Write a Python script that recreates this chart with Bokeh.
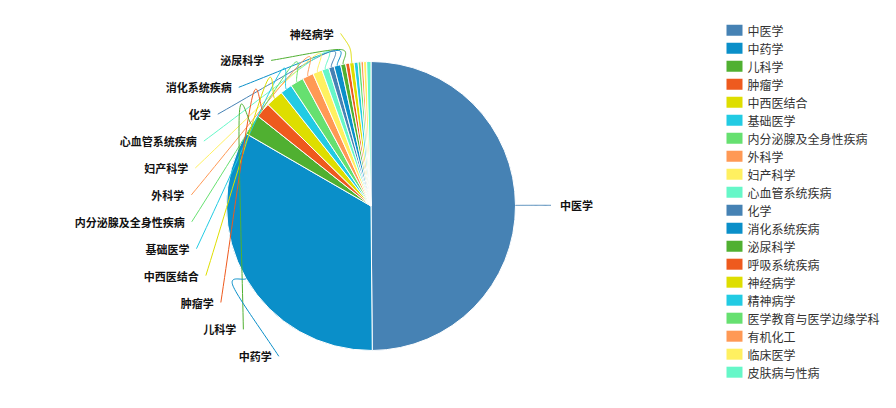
import math

from bokeh.core.properties import value
from bokeh.embed import file_html
from bokeh.models import Range1d
from bokeh.plotting import figure
from bokeh.resources import INLINE

# ---- data -----------------------------------------------------------------
categories = [
    "中医学", "中药学", "儿科学", "肿瘤学", "中西医结合", "基础医学",
    "内分泌腺及全身性疾病", "外科学", "妇产科学", "心血管系统疾病", "化学",
    "消化系统疾病", "泌尿科学", "呼吸系统疾病", "神经病学", "精神病学",
    "医学教育与医学边缘学科", "有机化工", "临床医学", "皮肤病与性病",
]
counts = [4986, 3350, 233, 169, 197, 133, 150, 125, 106, 78, 61,
          75, 56, 44, 50, 44, 32, 28, 35, 48]

palette = ["#4682b4", "#0a8fc9", "#50b031", "#ee5a1e", "#dede00",
           "#22cbe3", "#66e070", "#ff9955", "#fff060", "#66f7c8"]

# slices that carry an outside label (the rest are too thin)
left_labelled = [14, 12, 11, 10, 9, 8, 7, 6, 5, 4, 3, 2, 1]   # top to bottom
right_labelled = [0]

# ---- layout (pixel space, y measured downwards) ---------------------------
W, H = 896, 408
CX, CY, R = 370.5, 205.5, 144.5
LINE1 = 15              # first leg of the label line
LAB_A, LAB_B = 180, 175  # ellipse on which label lines end
LAB_TOP, LAB_STEP = 33, 26.9


def Y(py):
    return H - py


p = figure(width=W, height=H, x_range=Range1d(0, W), y_range=Range1d(0, H),
           x_axis_type=None, y_axis_type=None, min_border=0,
           toolbar_location=None, output_backend="svg")
p.outline_line_color = None
p.background_fill_color = "white"
p.border_fill_color = "white"

colors = [palette[i % len(palette)] for i in range(len(categories))]
total = float(sum(counts))
starts, ends = [], []
acc = 0.0
for c in counts:
    starts.append(acc)
    acc += c / total * 360.0
    ends.append(acc)

# pie, clockwise from 12 o'clock
p.wedge(x=[CX] * len(counts), y=[Y(CY)] * len(counts), radius=R,
        start_angle=[math.pi / 2 - math.radians(s) for s in starts],
        end_angle=[math.pi / 2 - math.radians(e) for e in ends],
        direction="clock", fill_color=colors, line_color="white",
        line_width=1)


def spline(pts, tension=0.45, n=24):
    """Cardinal spline through the given pixel points."""
    tans = []
    for k in range(len(pts)):
        a = pts[max(k - 1, 0)]
        b = pts[min(k + 1, len(pts) - 1)]
        f = tension if 0 < k < len(pts) - 1 else tension * 2
        tans.append(((b[0] - a[0]) * f, (b[1] - a[1]) * f))
    out = []
    for k in range(len(pts) - 1):
        p0, p1 = pts[k], pts[k + 1]
        m0, m1 = tans[k], tans[k + 1]
        for j in range(n + 1):
            t = j / n
            h00 = 2 * t**3 - 3 * t**2 + 1
            h10 = t**3 - 2 * t**2 + t
            h01 = -2 * t**3 + 3 * t**2
            h11 = t**3 - t**2
            out.append((h00 * p0[0] + h10 * m0[0] + h01 * p1[0] + h11 * m1[0],
                        h00 * p0[1] + h10 * m0[1] + h01 * p1[1] + h11 * m1[1]))
    return out


def label_line(i, end):
    mid = math.radians((starts[i] + ends[i]) / 2)
    ux, uy = math.sin(mid), -math.cos(mid)
    edge = (CX + R * ux, CY + R * uy)
    elbow = (CX + (R + LINE1) * ux, CY + (R + LINE1) * uy)
    pts = spline([edge, elbow, end])
    p.line([q[0] for q in pts], [Y(q[1]) for q in pts],
           line_color=colors[i], line_width=1)


def label_x(py, side):
    dy = py - CY
    dx = LAB_A * math.sqrt(max(0.0, 1 - (dy / LAB_B) ** 2))
    return CX + side * dx


lx, ly, lt = [], [], []
for k, i in enumerate(left_labelled):
    py = LAB_TOP + LAB_STEP * k
    ex = label_x(py, -1)
    label_line(i, (ex, py))
    lx.append(ex - 7)
    ly.append(Y(py))
    lt.append(categories[i])

rx, ry, rt = [], [], []
for i in right_labelled:
    mid = math.radians((starts[i] + ends[i]) / 2)
    py = CY - (R + LINE1) * math.cos(mid)
    ex = label_x(py, 1)
    label_line(i, (ex, py))
    rx.append(ex + 9)
    ry.append(Y(py))
    rt.append(categories[i])

label_style = dict(text_font=value("Noto Sans CJK SC"), text_font_size="11px",
                   text_font_style="bold", text_color="#111111",
                   text_baseline="middle")
p.text(x=lx, y=ly, text=lt, text_align="right", **label_style)
p.text(x=rx, y=ry, text=rt, text_align="left", **label_style)

# legend column
LEG_X, LEG_Y0, LEG_STEP = 734, 29.7, 18.0
leg_y = [Y(LEG_Y0 + LEG_STEP * i) for i in range(len(categories))]
p.rect(x=[LEG_X] * len(categories), y=leg_y, width=16, height=11,
       fill_color=colors, line_color=None)
p.text(x=[LEG_X + 13] * len(categories), y=leg_y, text=categories,
       text_align="left", text_baseline="middle",
       text_font=value("Noto Sans CJK SC"), text_font_size="12px",
       text_color="#333333")

open("out.html", "w").write(file_html(p, INLINE))
